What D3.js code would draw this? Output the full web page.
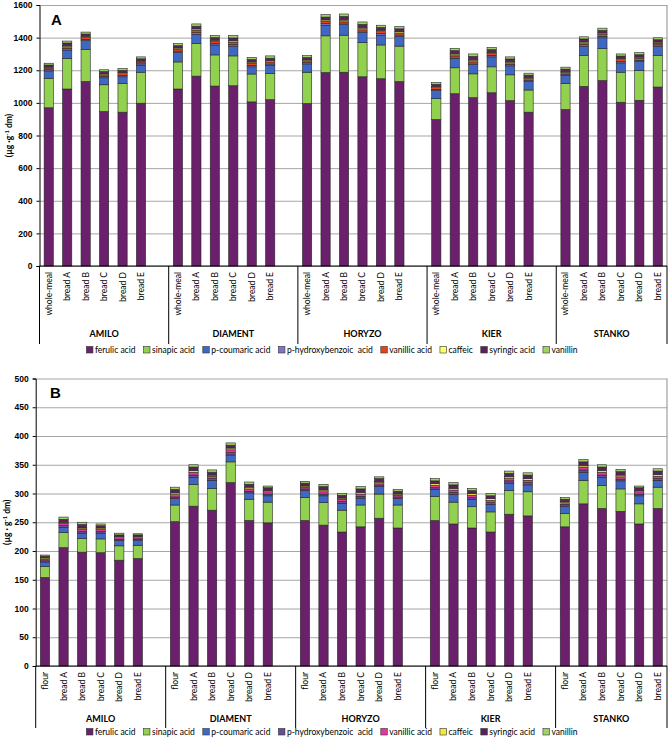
<!DOCTYPE html>
<html>
<head>
<meta charset="utf-8">
<script src="https://cdn.jsdelivr.net/npm/d3@7/dist/d3.min.js"></script>
<style>
  body { margin: 0; background: #fff; }
  svg { display: block; font-family: Lato, "Open Sans", sans-serif; }
</style>
</head>
<body>
<svg id="chart" width="669" height="740"></svg>
<script>
// categories
var varieties = ["AMILO", "DIAMENT", "HORYZO", "KIER", "STANKO"];
var samplesA = ["whole-meal", "bread A", "bread B", "bread C", "bread D", "bread E"];
var samplesB = ["flour", "bread A", "bread B", "bread C", "bread D", "bread E"];
var acids = ["ferulic acid", "sinapic acid", "p-coumaric acid", "p-hydroxybenzoic  acid",
             "vanillic acid", "caffeic", "syringic acid", "vanillin"];

// panel A values (µg/g dm), 6 samples per variety, varieties in order
var ferulicA  = [970, 1085, 1131, 947, 943, 998,  1085, 1164, 1103, 1105, 1006, 1020,  996, 1186, 1188, 1160, 1148, 1131,  898, 1056, 1032, 1062, 1014, 943,  959, 1101, 1137, 1004, 1016, 1097];
var sinapicA  = [181, 188, 197, 164, 176, 190,  166, 200, 191, 183, 171, 160,  192, 225, 227, 210, 207, 217,  128, 159, 146, 159, 158, 136,  160, 189, 196, 184, 182, 193];
var coumaricA = [45, 51, 53, 43, 41, 43,  57, 57, 61, 60, 44, 49,  51, 65, 65, 61, 60, 59,  49, 58, 57, 61, 55, 52,  49, 58, 66, 57, 55, 58];
var hydroxyA  = [7, 9, 8, 7, 8, 8,  9, 10, 9, 10, 9, 9,  8, 10, 10, 10, 9, 9,  8, 9, 10, 9, 8, 8,  8, 9, 9, 8, 8, 8];
var vanillicA = [10, 12, 12, 11, 11, 11,  12, 14, 13, 14, 13, 13,  11, 14, 14, 14, 13, 13,  11, 13, 14, 12, 12, 11,  11, 12, 13, 12, 12, 11];
var caffeicA  = [6, 7, 7, 6, 6, 6,  7, 8, 7, 8, 7, 7,  6, 8, 8, 8, 8, 8,  6, 8, 8, 7, 7, 6,  6, 7, 7, 7, 7, 6];
var syringicA = [13, 15, 14, 14, 14, 14,  15, 17, 16, 18, 16, 16,  14, 18, 18, 18, 17, 17,  14, 17, 18, 16, 15, 14,  14, 16, 16, 15, 15, 14];
var vanillinA = [11, 12, 12, 11, 12, 12,  13, 14, 13, 15, 13, 14,  12, 15, 15, 15, 14, 14,  11, 14, 15, 14, 13, 12,  12, 13, 14, 13, 13, 12];

// panel B values (µg/g dm)
var ferulicB  = [154, 206, 198, 197, 184, 187,  251, 278, 271, 319, 253, 249,  253, 245, 233, 242, 257, 240,  253, 247, 240, 233, 264, 261,  242, 282, 274, 269, 247, 274];
var sinapicB  = [19, 26, 24, 24, 25, 23,  29, 38, 38, 36, 37, 36,  40, 39, 38, 38, 42, 40,  42, 38, 37, 35, 41, 42,  23, 41, 40, 39, 35, 37];
var coumaricB = [8, 9, 9, 10, 9, 9,  11, 12, 14, 12, 11, 11,  12, 12, 12, 12, 13, 11,  12, 13, 13, 13, 13, 12,  13, 14, 14, 14, 14, 12];
var hydroxyB  = [2, 3, 3, 3, 2, 2,  3, 4, 3, 4, 3, 3,  3, 3, 3, 3, 3, 3,  3, 4, 3, 3, 4, 4,  3, 4, 4, 3, 3, 3];
var vanillicB = [3, 4, 4, 4, 3, 2,  4, 5, 4, 5, 4, 4,  3, 4, 4, 4, 4, 3,  4, 4, 4, 4, 4, 4,  3, 5, 5, 4, 4, 4];
var caffeicB  = [2, 2, 2, 2, 2, 2,  3, 3, 2, 3, 3, 2,  2, 3, 2, 3, 2, 2,  3, 3, 3, 3, 3, 3,  2, 3, 3, 3, 2, 3];
var syringicB = [3, 5, 6, 4, 3, 3,  6, 6, 5, 5, 5, 5,  5, 6, 5, 6, 5, 5,  5, 6, 5, 5, 6, 6,  4, 6, 6, 6, 5, 6];
var vanillinB = [2, 4, 4, 3, 3, 2,  4, 4, 4, 4, 4, 3,  3, 4, 3, 4, 3, 3,  4, 4, 4, 4, 4, 4,  3, 4, 4, 4, 3, 4];

var colorsA = ["#6b206b", "#92d050", "#3f68c2", "#8074c8", "#e5431f", "#ffff66", "#572457", "#9fd36a"];
var colorsB = ["#6b206b", "#92d050", "#3f68c2", "#6a4c9c", "#e2399a", "#f3e843", "#572457", "#9fd36a"];

var svg = d3.select("#chart");

drawPanel({
    left: 39.5, right: 667, top: 5, bottom: 266,
    max: 1600, step: 200,
    samples: samplesA,
    series: [ferulicA, sinapicA, coumaricA, hydroxyA, vanillicA, caffeicA, syringicA, vanillinA],
    colors: colorsA,
    letter: "A", letterX: 51, letterY: 25,
    unit: ["(µg ·g", " dm)"], unitX: 12,
    groupY: 337, sepEnd: 344, legendY: 353
});

drawPanel({
    left: 35.7, right: 667, top: 378.5, bottom: 666,
    max: 500, step: 50,
    samples: samplesB,
    series: [ferulicB, sinapicB, coumaricB, hydroxyB, vanillicB, caffeicB, syringicB, vanillinB],
    colors: colorsB,
    letter: "B", letterX: 50, letterY: 398,
    unit: ["(µg · g", " dm)"], unitX: 10,
    groupY: 722, sepEnd: 728, legendY: 735
});

function drawPanel(p) {
    var g = svg.append("g");

    // one slot per bar, plus an empty slot after every variety except the last
    var keys = [];
    varieties.forEach(function (v, i) {
        p.samples.forEach(function (s) { keys.push(v + "|" + s); });
        if (i < varieties.length - 1) keys.push("gap" + i);
    });
    var x = d3.scaleBand().domain(keys).range([p.left, p.right]);
    var y = d3.scaleLinear().domain([0, p.max]).range([p.bottom, p.top]);
    var bw = x.bandwidth();

    var rows = [];
    varieties.forEach(function (v, i) {
        p.samples.forEach(function (s, j) {
            var r = {key: v + "|" + s, sample: s};
            acids.forEach(function (a, k) { r[a] = p.series[k][i * 6 + j]; });
            rows.push(r);
        });
    });
    var stacked = d3.stack().keys(acids)(rows);
    var color = d3.scaleOrdinal().domain(acids).range(p.colors);
    var ticks = d3.range(0, p.max + 1, p.step);

    // gridlines
    g.append("g")
        .attr("transform", "translate(" + p.left + ",0)")
        .call(d3.axisLeft(y).tickValues(ticks).tickSize(-(p.right - p.left)).tickFormat(""))
        .call(function (s) { s.select(".domain").remove(); })
        .selectAll("line").attr("stroke", "#a6a6a6").attr("stroke-width", 1);

    // right border of the plot area
    g.append("line")
        .attr("x1", p.right).attr("x2", p.right)
        .attr("y1", p.top).attr("y2", p.bottom)
        .attr("stroke", "#8c8c8c");

    // stacked bars
    g.selectAll(".layer")
        .data(stacked)
        .enter().append("g")
        .attr("fill", function (d) { return color(d.key); })
        .selectAll("rect")
        .data(function (d) { return d; })
        .enter().append("rect")
        .attr("x", function (d) { return x(d.data.key) + bw * 0.25; })
        .attr("width", bw * 0.5)
        .attr("y", function (d) { return y(d[1]); })
        .attr("height", function (d) { return y(d[0]) - y(d[1]); })
        .attr("stroke", "#262626")
        .attr("stroke-width", 0.6);

    // y axis
    var yAxis = g.append("g")
        .attr("transform", "translate(" + p.left + ",0)")
        .call(d3.axisLeft(y).tickValues(ticks).tickSize(3).tickPadding(4).tickFormat(d3.format("d")));
    yAxis.select(".domain").attr("stroke", "#000");
    yAxis.selectAll("line").attr("stroke", "#000");
    yAxis.selectAll("text")
        .attr("font-size", 8.5).attr("font-weight", "bold").attr("fill", "#000");

    // category axis line
    g.append("line")
        .attr("x1", p.left).attr("x2", p.right)
        .attr("y1", p.bottom).attr("y2", p.bottom)
        .attr("stroke", "#000");

    // group separators
    var edges = [p.left];
    varieties.forEach(function (v, i) {
        if (i > 0) edges.push(x(v + "|" + p.samples[0]));
    });
    edges.push(p.right);
    g.selectAll(".sep")
        .data(edges)
        .enter().append("line")
        .attr("x1", function (d) { return d; }).attr("x2", function (d) { return d; })
        .attr("y1", p.bottom).attr("y2", p.sepEnd)
        .attr("stroke", "#000");

    // sample labels
    g.selectAll(".cat")
        .data(rows)
        .enter().append("text")
        .attr("transform", function (d) {
            return "translate(" + (x(d.key) + bw / 2 + 3) + "," + (p.bottom + 6) + ") rotate(-90)";
        })
        .attr("text-anchor", "end")
        .attr("font-size", 8.5)
        .attr("fill", "#000")
        .text(function (d) { return d.sample; });

    // variety labels
    g.selectAll(".grp")
        .data(varieties)
        .enter().append("text")
        .attr("x", function (d, i) { return (edges[i] + edges[i + 1]) / 2; })
        .attr("y", p.groupY)
        .attr("text-anchor", "middle")
        .attr("font-size", 9)
        .attr("font-weight", "bold")
        .attr("fill", "#000")
        .text(function (d) { return d; });

    // panel letter
    g.append("text")
        .attr("x", p.letterX).attr("y", p.letterY)
        .attr("font-family", "Liberation Sans, Arial, sans-serif")
        .attr("font-size", 15).attr("font-weight", "bold")
        .text(p.letter);

    // unit title
    var cy = (p.top + p.bottom) / 2;
    var t = g.append("text")
        .attr("transform", "translate(" + p.unitX + "," + cy + ") rotate(-90)")
        .attr("text-anchor", "middle")
        .attr("font-size", 8.5).attr("font-weight", "bold");
    t.append("tspan").text(p.unit[0]);
    t.append("tspan").attr("dy", -3).attr("font-size", 6).text("-1");
    t.append("tspan").attr("dy", 3).text(p.unit[1]);

    // legend
    var leg = g.append("g");
    var xpos = 0;
    acids.forEach(function (a) {
        var item = leg.append("g").attr("transform", "translate(" + xpos + ",0)");
        item.append("rect")
            .attr("x", 0).attr("y", -6.5).attr("width", 6.5).attr("height", 6.5)
            .attr("fill", color(a)).attr("stroke", "#333").attr("stroke-width", 0.6);
        var txt = item.append("text")
            .attr("x", 8.5).attr("y", 0)
            .attr("font-size", 8.5).attr("fill", "#000")
            .style("white-space", "pre")
            .text(a);
        xpos += 8.5 + txt.node().getComputedTextLength() + 8;
    });
    leg.attr("transform", "translate(" + (332 - (xpos - 8) / 2) + "," + p.legendY + ")");
}
</script>
</body>
</html>
